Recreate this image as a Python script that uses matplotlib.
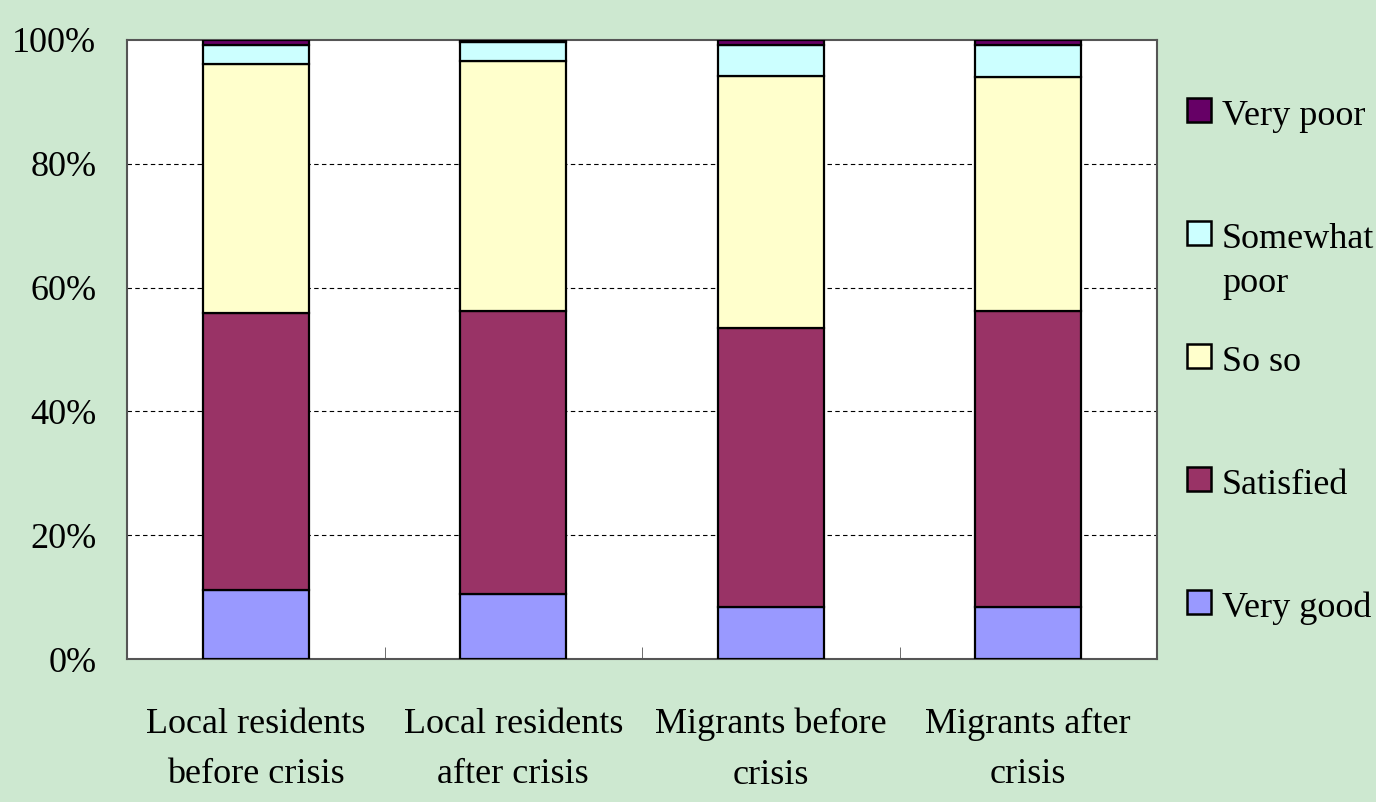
import numpy as np
import matplotlib.pyplot as plt
from matplotlib.patches import Rectangle
from matplotlib.ticker import PercentFormatter

plt.rcParams['font.family'] = ['Liberation Serif', 'DejaVu Serif']

# data (percent of respondents)
groups = ['Local residents\nbefore crisis', 'Local residents\nafter crisis',
          'Migrants before\ncrisis', 'Migrants after\ncrisis']
very_good = [11.1, 10.5, 8.4, 8.4]
satisfied = [44.8, 45.8, 45.1, 47.8]
so_so = [40.2, 40.3, 40.7, 37.8]
somewhat_poor = [3.1, 3.1, 5.0, 5.2]
very_poor = [0.8, 0.3, 0.8, 0.8]

series = [('Very good', very_good, '#9999ff'),
          ('Satisfied', satisfied, '#993366'),
          ('So so', so_so, '#ffffcc'),
          ('Somewhat\npoor', somewhat_poor, '#ccffff'),
          ('Very poor', very_poor, '#660066')]

W, H = 1376, 802
bg = '#cde8d0'
fig = plt.figure(figsize=(W / 100, H / 100), dpi=100, facecolor=bg)
ax = fig.add_axes([127 / W, 1 - 659 / H, 1030 / W, 619 / H])
ax.set_facecolor('white')

x = np.arange(len(groups))
bottom = np.zeros(len(groups))
for name, vals, col in series:
    vals = np.array(vals)
    ax.bar(x, vals, 0.41, bottom=bottom, color=col, edgecolor='black',
           linewidth=1.6, zorder=3)
    bottom += vals

ax.set_xlim(-0.5, len(groups) - 0.5)
ax.set_ylim(0, 100)
ax.set_yticks([0, 20, 40, 60, 80, 100])
ax.yaxis.set_major_formatter(PercentFormatter(decimals=0))
ax.tick_params(axis='y', length=0, pad=22, labelsize=26)
ax.set_xticks(x)
ax.set_xticklabels(groups, fontsize=26, linespacing=1.7)
ax.tick_params(axis='x', length=0, pad=35)
ax.set_xticks(x[:-1] + 0.5, minor=True)
ax.tick_params(axis='x', which='minor', direction='in', length=9, color='#555555')
for y in [20, 40, 60, 80]:
    ax.axhline(y, color='black', linestyle=(0, (4, 3)), linewidth=0.8, zorder=1)
for s in ax.spines.values():
    s.set_color('#555555')
    s.set_linewidth(1.5)

# legend on the right side, top entry first (square centres in pixels)
leg_y = [110, 233, 356, 479, 602]
for (name, vals, col), yy in zip(series[::-1], leg_y):
    fig.patches.append(Rectangle((1187 / W, 1 - (yy + 12) / H), 24 / W, 24 / H,
                                 transform=fig.transFigure, facecolor=col,
                                 edgecolor='black', linewidth=1.8))
    first, *rest = name.split('\n')
    fig.text(1222 / W, 1 - (yy + 15) / H, first, fontsize=26, va='baseline')
    for i, line in enumerate(rest):
        fig.text(1222 / W, 1 - (yy + 15 + 44 * (i + 1)) / H, line,
                 fontsize=26, va='baseline')

fig.savefig('out.png', dpi=100, facecolor=bg)
